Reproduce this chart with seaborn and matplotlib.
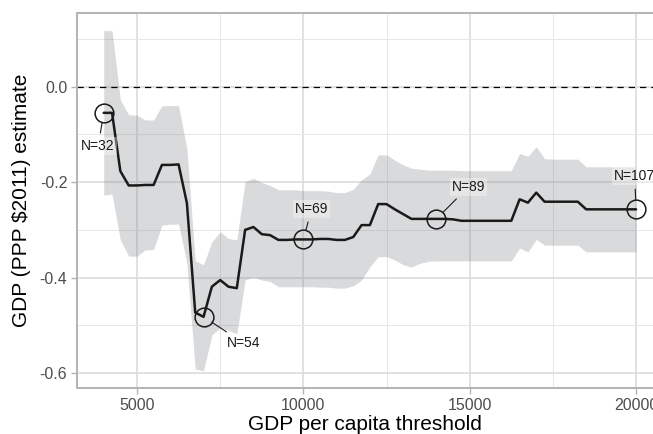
import numpy as np
import pandas as pd
import seaborn as sns
import matplotlib.pyplot as plt
from matplotlib.ticker import MultipleLocator

# GDP per capita thresholds (step 250)
threshold = np.arange(4000, 20001, 250)

# point estimate
estimate = [-0.055, -0.055, -0.177, -0.207, -0.207, -0.206, -0.206, -0.164, -0.164, -0.163,
            -0.244, -0.473, -0.482, -0.419, -0.405, -0.419, -0.422, -0.300, -0.294, -0.309,
            -0.311, -0.321, -0.321, -0.320, -0.320, -0.320, -0.319, -0.319, -0.321, -0.321,
            -0.315, -0.290, -0.290, -0.246, -0.246, -0.257, -0.267, -0.277, -0.277, -0.277,
            -0.277, -0.277, -0.278, -0.281, -0.281, -0.281, -0.281, -0.281, -0.281, -0.281,
            -0.236, -0.243, -0.222, -0.241, -0.241, -0.241, -0.241, -0.241, -0.257, -0.257,
            -0.257, -0.257, -0.257, -0.257, -0.257]

# confidence band
upper = [0.117, 0.117, -0.028, -0.059, -0.060, -0.070, -0.070, -0.040, -0.040, -0.040,
         -0.130, -0.365, -0.373, -0.325, -0.304, -0.318, -0.321, -0.199, -0.192, -0.201,
         -0.207, -0.216, -0.216, -0.216, -0.218, -0.218, -0.218, -0.219, -0.222, -0.222,
         -0.215, -0.195, -0.183, -0.143, -0.143, -0.154, -0.164, -0.171, -0.173, -0.175,
         -0.175, -0.175, -0.175, -0.176, -0.176, -0.176, -0.176, -0.176, -0.176, -0.176,
         -0.140, -0.146, -0.126, -0.151, -0.152, -0.152, -0.152, -0.152, -0.168, -0.168,
         -0.168, -0.168, -0.168, -0.168, -0.168]
lower = [-0.227, -0.225, -0.321, -0.355, -0.355, -0.342, -0.341, -0.290, -0.288, -0.288,
         -0.370, -0.591, -0.595, -0.520, -0.505, -0.510, -0.518, -0.405, -0.399, -0.405,
         -0.408, -0.419, -0.419, -0.419, -0.419, -0.419, -0.420, -0.420, -0.422, -0.422,
         -0.417, -0.405, -0.377, -0.356, -0.356, -0.363, -0.373, -0.378, -0.370, -0.366,
         -0.365, -0.365, -0.365, -0.365, -0.365, -0.365, -0.365, -0.365, -0.365, -0.365,
         -0.338, -0.346, -0.320, -0.332, -0.332, -0.332, -0.332, -0.332, -0.346, -0.346,
         -0.346, -0.346, -0.346, -0.346, -0.346]

# highlighted sample sizes
mark_x = [4000, 7000, 10000, 14000, 20000]
mark_n = ['N=32', 'N=54', 'N=69', 'N=89', 'N=107']
label_offset = [(-4, -24), (29, -19), (6, 22), (23, 23), (-1, 24)]

df = pd.DataFrame({'threshold': threshold, 'estimate': estimate,
                   'upper': upper, 'lower': lower})
marks = df[df['threshold'].isin(mark_x)]

sns.set_theme(style='white')
plt.rcParams['font.family'] = ['Liberation Sans', 'DejaVu Sans']
plt.rcParams['axes.unicode_minus'] = False

fig = plt.figure(figsize=(6.53, 4.34), dpi=100)
ax = fig.add_axes([77 / 653, 1 - 388 / 434, 1 - 77 / 653, 375 / 434])

# grid
ax.xaxis.set_major_locator(MultipleLocator(5000))
ax.xaxis.set_minor_locator(MultipleLocator(2500))
ax.yaxis.set_major_locator(MultipleLocator(0.2))
ax.yaxis.set_minor_locator(MultipleLocator(0.1))
ax.grid(which='major', color='#dcdcdc', lw=1.2)
ax.grid(which='minor', color='#e6e6e6', lw=0.7)
ax.set_axisbelow(True)

ax.fill_between(df['threshold'], df['lower'], df['upper'], color='#84858a', alpha=0.3, lw=0)
ax.axhline(0, color='black', lw=0.9, ls=(0, (5, 4)))
sns.lineplot(data=df, x='threshold', y='estimate', ax=ax, color='#1a1a1a', lw=1.8)
ax.plot(marks['threshold'], marks['estimate'], 'o', ms=13.5, mfc='none', mec='#1a1a1a', mew=1.1)

for (_, r), txt, off in zip(marks.iterrows(), mark_n, label_offset):
    ax.annotate(txt, (r['threshold'], r['estimate']), xytext=off, textcoords='offset points',
                ha='center', va='center', fontsize=10, color='#1a1a1a',
                bbox=dict(boxstyle='square,pad=0.15', fc='white', ec='none', alpha=0.35),
                arrowprops=dict(arrowstyle='-', color='#1a1a1a', lw=0.8, shrinkA=3, shrinkB=7))

ax.set_xlim(3197, 20509)
ax.set_ylim(-0.631, 0.154)

for s in ['top', 'left', 'bottom']:
    ax.spines[s].set_color('#b3b3b3')
    ax.spines[s].set_linewidth(1.4)
ax.spines['right'].set_visible(False)

ax.tick_params(which='major', length=4, width=1, color='#b3b3b3', labelsize=11.5,
               labelcolor='#4d4d4d', pad=3, bottom=True, left=True)
ax.tick_params(which='minor', length=0)
ax.set_yticks([-0.6, -0.4, -0.2, 0.0])
ax.set_yticklabels(['-0.6', '-0.4', '-0.2', '0.0'])

ax.set_xlabel('GDP per capita threshold', fontsize=15, color='black', labelpad=2)
ax.set_ylabel('GDP (PPP $2011) estimate', fontsize=15, color='black', labelpad=6)

fig.savefig('out.png', dpi=100)
